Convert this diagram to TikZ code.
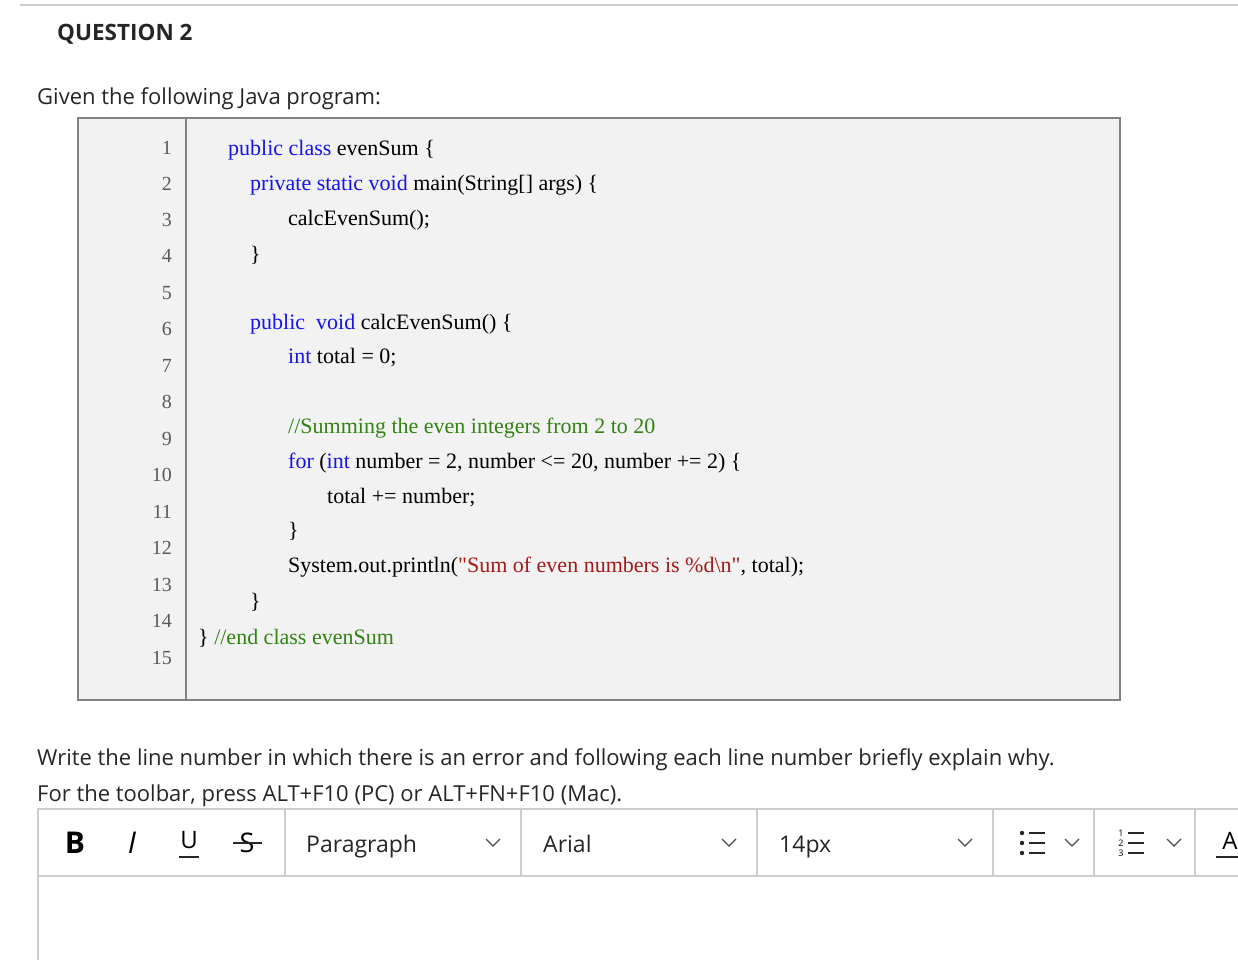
\documentclass[tikz,border=0pt]{standalone}
\usepackage{fontspec}
\setmainfont{Liberation Serif}
\newfontfamily\ui{Open Sans}
\definecolor{kw}{RGB}{20,20,235}
\definecolor{cm}{RGB}{50,130,20}
\definecolor{st}{RGB}{165,25,25}
\definecolor{boxbg}{RGB}{242,242,242}
\definecolor{boxln}{RGB}{130,130,130}
\definecolor{tb}{RGB}{205,205,205}
\definecolor{num}{RGB}{90,90,90}
\begin{document}
\begin{tikzpicture}[x=1pt,y=-1pt,
  code/.style={anchor=west,inner sep=0pt,font=\fontsize{22}{22}\selectfont},
  lnum/.style={anchor=east,inner sep=0pt,font=\fontsize{20}{22}\selectfont,text=num},
  uitxt/.style={anchor=west,inner sep=0pt,font=\ui\fontsize{22}{24}\selectfont,text=black!85},
  tbtxt/.style={anchor=base west,inner sep=0pt,font=\ui\fontsize{23}{24}\selectfont,text=black!85},
  sep/.style={draw=tb,line width=1.2pt},
  chev/.style={draw=black!70,line width=1.3pt}]
\useasboundingbox (0,0) rectangle (1238,960);
\fill[white] (0,0) rectangle (1238,960);
\draw[draw=tb,line width=1.5pt] (20,5) -- (1238,5);
\node[uitxt,font=\ui\bfseries\fontsize{22.5}{24}\selectfont] (q) at (57,34) {QUESTION 2};
\node[uitxt] (g) at (37,99) {Given the following Java program:};
% code box
\draw[fill=boxbg,draw=boxln,line width=1.8pt] (78,118) rectangle (1120,700);
\draw[draw=boxln,line width=1.8pt] (186,118) -- (186,700);
\foreach \n/\y in {1/148,2/184,3/220,4/256,5/293,6/329,7/366,8/402,9/439,10/475,11/512,12/548,13/585,14/621,15/658}
  \node[lnum] (n\n) at (172,\y) {\n};
\node[code] (c1) at (228,150) {\textcolor{kw}{public class} evenSum \{};
\node[code] (c2) at (250,185) {\textcolor{kw}{private static void} main(String[] args) \{};
\node[code] (c3) at (288,220) {calcEvenSum();};
\node[code] (c4) at (250,255) {\}};
\node[code] (c6) at (250,324) {\textcolor{kw}{public\ \ void} calcEvenSum() \{};
\node[code] (c7) at (288,358) {\textcolor{kw}{int} total = 0;};
\node[code] (c9) at (288,428) {\textcolor{cm}{//Summing the even integers from 2 to 20}};
\node[code] (c10) at (288,463) {\textcolor{kw}{for} (\textcolor{kw}{int} number = 2, number <= 20, number += 2) \{};
\node[code] (c11) at (327,498) {total += number;};
\node[code] (c12) at (288,531) {\}};
\node[code] (c13) at (288,567) {System.out.println(\textcolor{st}{\textquotedbl Sum of even numbers is \%d\textbackslash n\textquotedbl}, total);};
\node[code] (c14) at (250,602) {\}};
\node[code] (c15) at (198,638) {\} \textcolor{cm}{//end class evenSum}};
% instructions
\node[uitxt] (w) at (37,760) {Write the line number in which there is an error and following each line number briefly explain why.};
\node[uitxt] (f) at (37,796) {For the toolbar, press ALT+F10 (PC) or ALT+FN+F10 (Mac).};
% editor
\draw[sep] (38,960) -- (38,809) -- (1238,809);
\draw[sep] (38,876) -- (1238,876);
\foreach \x in {285,521,757,993,1094,1195} \draw[sep] (\x,809) -- (\x,876);
\node[anchor=center,inner sep=0pt,font=\ui\bfseries\fontsize{30}{32}\selectfont] (bB) at (75,843) {B};
\node[anchor=center,inner sep=0pt,font=\ui\itshape\fontsize{30}{32}\selectfont] (bI) at (132,843) {I};
\node[anchor=center,inner sep=0pt,font=\ui\fontsize{24}{28}\selectfont] (bU) at (189,840) {U};
\draw[line width=1.8pt,black!85] (179,857) -- (199,857);
\node[anchor=center,inner sep=0pt,font=\ui\fontsize{27}{28}\selectfont] (bS) at (247,843) {S};
\draw[line width=1.8pt,black!85] (233,843) -- (262,843);
\node[tbtxt] (para) at (306,852) {Paragraph};
\node[tbtxt] (font) at (543,852) {Arial};
\node[tbtxt] (size) at (779,852) {14px};
\foreach \x in {493,729,965,1072,1174} \draw[chev] (\x-7,839) -- (\x,846) -- (\x+7,839);
% bullet list icon
\foreach \yy in {833,843,853} {\fill[black!85] (1022,\yy) circle (2.2pt); \draw[line width=2pt,black!85] (1029,\yy) -- (1045,\yy);}
% numbered list icon
\foreach \yy/\t in {833/1,843/2,853/3} {\node[inner sep=0pt,font=\ui\fontsize{9}{9}\selectfont] at (1121,\yy) {\t}; \draw[line width=2pt,black!85] (1128,\yy) -- (1144,\yy);}
\node[anchor=center,inner sep=0pt,font=\ui\fontsize{24}{24}\selectfont] (tA) at (1230,841) {A};
\draw[line width=2.8pt,black!85] (1216,857) -- (1238,857);
\end{tikzpicture}
\end{document}
